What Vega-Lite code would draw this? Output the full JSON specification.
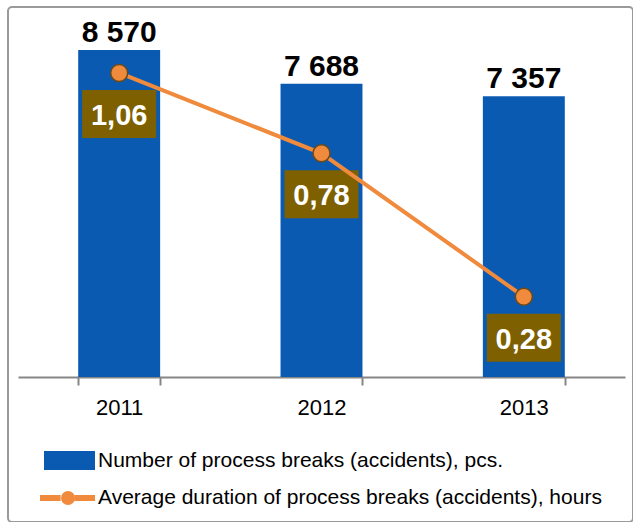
{
  "$schema": "https://vega.github.io/schema/vega-lite/v6.json",
  "width": 625,
  "height": 515,
  "autosize": {"type": "none"},
  "padding": {"left": 8, "top": 7, "right": 0, "bottom": 0},
  "background": "white",
  "config": {
    "view": {"stroke": "#9a9a9a", "strokeWidth": 2, "cornerRadius": 4},
    "locale": {"number": {"decimal": ",", "thousands": " ", "grouping": [3], "currency": ["", ""]}},
    "font": "Liberation Sans"
  },
  "data": {
    "values": [
      {"year": "2011", "count": 8570, "dur": 1.06},
      {"year": "2012", "count": 7688, "dur": 0.78},
      {"year": "2013", "count": 7357, "dur": 0.28}
    ]
  },
  "encoding": {
    "x": {
      "field": "year",
      "type": "nominal",
      "scale": {"range": [10, 617], "paddingInner": 0.595, "paddingOuter": 0.2975},
      "axis": {
        "title": null,
        "orient": "bottom",
        "offset": -145,
        "labelAngle": 0,
        "domainColor": "#868686",
        "domainWidth": 2,
        "tickBand": "extent",
        "tickColor": "#868686",
        "tickWidth": 2,
        "tickSize": 8,
        "labelFontSize": 22,
        "labelColor": "#000000",
        "labelFont": "Liberation Sans",
        "labelPadding": 12,
        "grid": false
      }
    }
  },
  "layer": [
    {
      "mark": {"type": "bar"},
      "encoding": {
        "y": {"field": "count", "type": "quantitative", "scale": {"domain": [0, 9697], "range": [370, 0]}, "axis": null},
        "fill": {
          "datum": "Number of process breaks (accidents), pcs.",
          "scale": {"range": ["#0B5AB2"]},
          "legend": {
            "title": null,
            "orient": "none",
            "legendX": 36,
            "legendY": 428,
            "symbolType": "M-1,-0.373L1,-0.373L1,0.373L-1,0.373Z",
            "symbolSize": 2601,
            "symbolStrokeWidth": 0,
            "labelFontSize": 21,
            "labelOffset": 3,
            "labelColor": "#000000",
            "labelLimit": 600,
            "labelFont": "Liberation Sans"
          }
        }
      }
    },
    {
      "mark": {"type": "text", "baseline": "alphabetic", "dy": -8, "fontSize": 30, "fontWeight": "bold", "color": "#000000", "font": "Liberation Sans"},
      "encoding": {
        "y": {"field": "count", "type": "quantitative", "scale": {"domain": [0, 9697], "range": [370, 0]}, "axis": null},
        "text": {"field": "count", "type": "quantitative", "format": ",.0f"}
      }
    },
    {
      "mark": {"type": "point", "shape": "M-1,-0.65L1,-0.65L1,0.65L-1,0.65Z", "size": 5476, "filled": true, "fill": "#7F6000", "opacity": 1, "strokeWidth": 0, "yOffset": 41},
      "encoding": {
        "y": {"field": "dur", "type": "quantitative", "scale": {"domain": [0, 1.29], "range": [370, 0]}, "axis": null}
      }
    },
    {
      "mark": {"type": "line", "strokeWidth": 4},
      "encoding": {
        "y": {"field": "dur", "type": "quantitative", "scale": {"domain": [0, 1.29], "range": [370, 0]}, "axis": null},
        "stroke": {
          "datum": "Average duration of process breaks (accidents), hours",
          "scale": {"range": ["#F08A3C"]},
          "legend": {
            "title": null,
            "orient": "none",
            "legendX": 29,
            "legendY": 460.5,
            "symbolType": "M-1,0L-0.25,0M0.25,0L1,0",
            "symbolSize": 3025,
            "symbolStrokeWidth": 6,
            "labelFontSize": 21,
            "labelOffset": 0,
            "labelColor": "#000000",
            "labelLimit": 600,
            "labelFont": "Liberation Sans"
          }
        }
      }
    },
    {
      "mark": {"type": "point", "filled": true, "fill": "#F08A3C", "stroke": "#6B4A1A", "strokeWidth": 1.5, "size": 289, "opacity": 1},
      "encoding": {
        "y": {"field": "dur", "type": "quantitative", "scale": {"domain": [0, 1.29], "range": [370, 0]}, "axis": null},
        "shape": {
          "datum": "marker",
          "scale": {"range": ["circle"]},
          "legend": {
            "title": null,
            "orient": "none",
            "legendX": 52,
            "legendY": 483,
            "symbolSize": 196,
            "symbolFillColor": "#F79646",
            "symbolStrokeColor": "#8B6508",
            "symbolStrokeWidth": 1.5,
            "labelExpr": "''",
            "labelFontSize": 10
          }
        }
      }
    },
    {
      "mark": {"type": "text", "baseline": "alphabetic", "dy": 52, "fontSize": 29, "fontWeight": "bold", "color": "#FFFFFF", "font": "Liberation Sans"},
      "encoding": {
        "y": {"field": "dur", "type": "quantitative", "scale": {"domain": [0, 1.29], "range": [370, 0]}, "axis": null},
        "text": {"field": "dur", "type": "quantitative", "format": ".2f"}
      }
    }
  ],
  "resolve": {"scale": {"y": "independent"}}
}
